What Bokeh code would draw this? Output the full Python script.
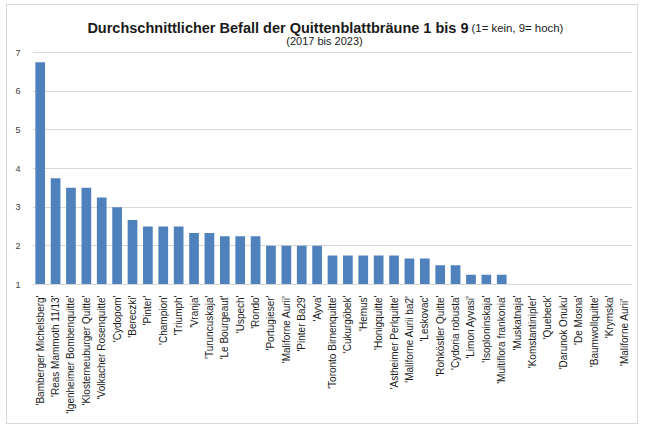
from bokeh.plotting import figure
from bokeh.models import Range1d, FactorRange, Label, FixedTicker, ColumnDataSource
from bokeh.embed import file_html
from bokeh.resources import INLINE
import math

sorten = [
    "'Bamberger Michelsberg'", "'Reas Mammoth 11/13'", "'Igenheimer Bombenquitte'",
    "'Klosterneuburger Quitte'", "'Volkacher Rosenquitte'", "'Cydopom'", "'Bereczki'",
    "'Pinter'", "'Champion'", "'Triumph'", "'Vranja'", "'Turuncuskaja'", "'Le Bourgeaut'",
    "'Uspech'", "'Rondo'", "'Portugieser'", "'Maliforne Aurii'", "'Pinter Ba29'", "'Ayva'",
    "'Toronto Birnenquitte'", "'Cukurgöbek'", "'Hemus'", "'Honigquitte'",
    "'Astheimer Perlquitte'", "'Maliforne Aurii ba2'", "'Leskovac'", "'Rohköstler Quitte'",
    "'Cydoria robusta'", "'Limon Ayvasi'", "'Isoploninskaja'", "'Multiflora frankonia'",
    "'Muskatnaja'", "'Komstantinipler'", "'Quebeck'", "'Darunok Onuku'", "'De Mosna'",
    "'Baumwollquitte'", "'Krymska'", "'Maliforne Aurii' ",
]
befall = [
    6.75, 3.75, 3.5, 3.5, 3.25, 3.0, 2.67,
    2.5, 2.5, 2.5, 2.33, 2.33, 2.25,
    2.25, 2.25, 2.0, 2.0, 2.0, 2.0,
    1.75, 1.75, 1.75, 1.75,
    1.75, 1.67, 1.67, 1.5,
    1.5, 1.25, 1.25, 1.25,
    1.0, 1.0, 1.0, 1.0, 1.0,
    1.0, 1.0, 1.0,
]
y_ticks = [1, 2, 3, 4, 5, 6, 7]
titel = "Durchschnittlicher Befall der Quittenblattbräune 1 bis 9"
titel_zusatz = "(1= kein, 9= hoch)"
untertitel = "(2017 bis 2023)"

src = ColumnDataSource(dict(x=sorten, top=befall, bottom=[1.0] * len(befall)))

# layout in page pixels
ox, oy = 7, 5            # canvas origin on page (margin + border)
fl, fr = 32, 632         # frame left / right
ft, fb = 6, 284          # frame top / bottom (y=1 at fb, y=7 at 52)
px_y = (fb - 52) / 6
y_max = 1 + (fb - ft) / px_y

W, H = 632, 420
p = figure(
    x_range=FactorRange(*sorten, range_padding=0.0),
    y_range=Range1d(1, y_max),
    width=W, height=H,
    output_backend="svg", toolbar_location=None,
    min_border_left=fl - ox, min_border_right=ox + W - fr,
    min_border_top=ft - oy, min_border_bottom=oy + H - fb,
    background_fill_color="white", border_fill_color="white",
    styles={"border": "1px solid #d9d9d9", "margin-left": "6px", "margin-top": "4px"},
)
p.outline_line_color = None
p.vbar(x="x", top="top", bottom="bottom", width=0.63, source=src,
       fill_color="#4f81bd", line_color=None)

p.xgrid.grid_line_color = None
p.ygrid.grid_line_color = "#d9d9d9"
p.ygrid.grid_line_width = 1
p.yaxis.ticker = FixedTicker(ticks=y_ticks)
p.yaxis.axis_line_color = None
p.yaxis.major_tick_line_color = None
p.yaxis.minor_tick_line_color = None
p.yaxis.major_label_text_font = "Liberation Sans"
p.yaxis.major_label_text_font_size = "9px"
p.yaxis.major_label_text_color = "#404040"
p.yaxis.major_label_standoff = 6

p.xaxis.axis_line_color = "#d9d9d9"
p.xaxis.major_tick_line_color = None
p.xaxis.minor_tick_line_color = None
p.xaxis.major_label_orientation = math.pi / 2
p.xaxis.major_label_text_font = "Liberation Sans"
p.xaxis.major_label_text_font_size = "10px"
p.xaxis.major_label_text_color = "#1a1a1a"
p.xaxis.major_label_standoff = 5

px_x = (fr - fl) / len(sorten)
def dx(page_x):
    return (page_x - fl) / px_x
def dy(page_y):
    return 1 + (fb - page_y) / px_y

p.add_layout(Label(x=dx(468), y=dy(27), text=titel,
                   text_font="Liberation Sans", text_font_style="bold", text_font_size="14.5px",
                   text_align="right", text_baseline="alphabetic", text_color="#1a1a1a"))
p.add_layout(Label(x=dx(471), y=dy(27), text=titel_zusatz,
                   text_font="Liberation Sans", text_font_size="11.4px",
                   text_align="left", text_baseline="alphabetic", text_color="#1a1a1a"))
p.add_layout(Label(x=dx(324), y=dy(40), text=untertitel,
                   text_font="Liberation Sans", text_font_size="11px",
                   text_align="center", text_baseline="alphabetic", text_color="#1a1a1a"))

open("out.html", "w").write(file_html(p, INLINE))
